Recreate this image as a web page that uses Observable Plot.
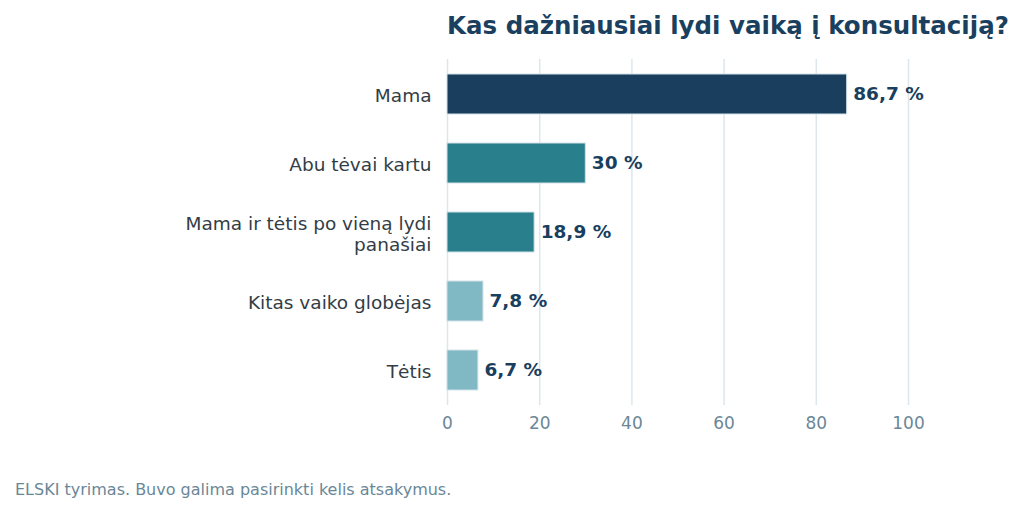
<!DOCTYPE html>
<html>
<head>
<meta charset="utf-8">
<script src="https://cdn.jsdelivr.net/npm/d3@7"></script>
<script src="https://cdn.jsdelivr.net/npm/@observablehq/plot@0.6"></script>
<style>
  html, body { margin: 0; padding: 0; background: #fff; }
  body { width: 1024px; height: 512px; overflow: hidden; font-family: "DejaVu Sans", sans-serif; position: relative; }
  #title { position: absolute; left: 447px; top: 11px; font-size: 24.5px; font-weight: bold; color: #1b3f5e; white-space: nowrap; line-height: 30px; }
  #chart { position: absolute; left: 0; top: 50px; }
  #caption { position: absolute; left: 15px; top: 480px; font-size: 16px; color: #6a8798; white-space: nowrap; line-height: 20px; }
</style>
</head>
<body>
<div id="title">Kas dažniausiai lydi vaiką į konsultaciją?</div>
<div id="chart"></div>
<div id="caption">ELSKI tyrimas. Buvo galima pasirinkti kelis atsakymus.</div>
<script>
const categories = ["Mama", "Abu tėvai kartu", "Mama ir tėtis po vieną lydi\npanašiai", "Kitas vaiko globėjas", "Tėtis"];
const values = [86.7, 30, 18.9, 7.8, 6.7];
const colors = ["#1a3f5e", "#2a7f8c", "#2a7f8c", "#80b8c3", "#80b8c3"];
const xTicks = [0, 20, 40, 60, 80, 100];

const data = categories.map((c, i) => ({category: c, value: values[i], color: colors[i]}));
const fmt = v => String(v).replace(".", ",") + " %";

const plot = Plot.plot({
  width: 1024,
  height: 400,
  marginLeft: 447,
  marginRight: 116,
  marginTop: 9,
  marginBottom: 45,
  style: {fontFamily: "DejaVu Sans, sans-serif", background: "transparent"},
  x: {domain: [0, 100], ticks: xTicks},
  y: {domain: categories, paddingInner: 0.42, paddingOuter: 0.21},
  marks: [
    Plot.gridX(xTicks, {stroke: "#dce7ec", strokeOpacity: 1, strokeWidth: 1.5}),
    Plot.axisX({ticks: xTicks, tickSize: 0, tickPadding: 11, fontSize: 17, color: "#6b8797", label: null}),
    Plot.axisY({tickSize: 0, tickPadding: 16, fontSize: 18.5, lineHeight: 1.14, dy: 1, color: "#333d45", label: null}),
    Plot.barX(data, {x: "value", y: "category", fill: "color", stroke: "#d3e2e8", strokeWidth: 1}),
    Plot.text(data, {x: "value", y: "category", text: d => fmt(d.value), textAnchor: "start", dx: 6, fontSize: 18.5, fontWeight: "bold", fill: "#1a3f5e"})
  ]
});
document.getElementById("chart").appendChild(plot);
</script>
</body>
</html>
